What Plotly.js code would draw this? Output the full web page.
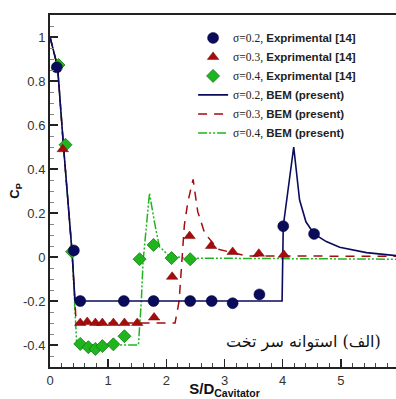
<!DOCTYPE html>
<html><head><meta charset="utf-8">
<script src="https://cdn.plot.ly/plotly-3.0.1.min.js"></script>
<style>html,body{margin:0;padding:0;overflow:hidden;background:#fff}#plot{width:399px;height:399px}</style>
</head><body><div id="plot"></div>
<script>
// Experimental points
const exp02X = [0.117, 0.41, 0.52, 1.27, 1.78, 2.41, 2.78, 3.14, 3.60, 4.01, 4.54];
const exp02Y = [0.862, 0.03, -0.20, -0.20, -0.20, -0.20, -0.20, -0.21, -0.17, 0.14, 0.105];
const exp03X = [0.22, 0.52, 0.64, 0.78, 0.90, 1.09, 1.28, 1.50, 1.79, 2.10, 2.40, 2.77, 3.14, 3.59, 4.02];
const exp03Y = [0.49, -0.30, -0.295, -0.30, -0.30, -0.30, -0.30, -0.30, -0.275, -0.09, 0.095, 0.05, 0.023, 0.015, 0.01];
const exp04X = [0.146, 0.267, 0.38, 0.52, 0.66, 0.78, 0.90, 1.09, 1.28, 1.54, 1.78, 2.09, 2.41];
const exp04Y = [0.873, 0.51, 0.024, -0.395, -0.41, -0.418, -0.405, -0.397, -0.36, -0.01, 0.055, -0.005, -0.01];
// BEM curves
const bem02X = [0, 0.13, 0.23, 0.34, 0.38, 0.43, 3.99, 4.01, 4.05, 4.09, 4.19, 4.29, 4.40, 4.54, 4.75, 4.98, 5.44, 6.0];
const bem02Y = [1, 0.865, 0.51, 0.17, 0.02, -0.2, -0.2, 0.14, 0.23, 0.30, 0.50, 0.26, 0.16, 0.105, 0.07, 0.044, 0.02, 0.005];
const bem03X = [0, 0.13, 0.23, 0.34, 0.38, 0.45, 2.15, 2.22, 2.26, 2.31, 2.37, 2.46, 2.54, 2.66, 2.89, 3.38, 6.0];
const bem03Y = [1, 0.865, 0.51, 0.17, 0.02, -0.3, -0.3, -0.2, -0.05, 0.145, 0.25, 0.353, 0.206, 0.108, 0.035, 0.005, 0.003];
const bem04X = [0, 0.13, 0.23, 0.34, 0.38, 0.46, 1.52, 1.57, 1.60, 1.65, 1.71, 1.80, 1.88, 2.03, 2.3, 6.0];
const bem04Y = [1, 0.865, 0.51, 0.17, 0.02, -0.4, -0.4, -0.2, -0.02, 0.12, 0.29, 0.153, 0.047, 0.01, -0.005, -0.01];
const names = [
  "σ=0.2, Exprimental [14]", "σ=0.3, Exprimental [14]", "σ=0.4, Exprimental [14]",
  "σ=0.2, BEM (present)", "σ=0.3, BEM (present)", "σ=0.4, BEM (present)"
];
const xTickVals = [0, 1, 2, 3, 4, 5, 6];
const yTickVals = [-0.4, -0.2, 0, 0.2, 0.4, 0.6, 0.8, 1];
const panelLabel = "(الف) استوانه سر تخت";

const NAVY = "#0b0b5c", RED = "#a50d0d", GREEN = "#1fb51f";
function fmt(n) {
  const i = n.indexOf(",");
  return "<span style='font-family:Liberation Serif;font-weight:normal'>" + n.slice(0, i + 1) + "</span> <b>" + n.slice(i + 2) + "</b>";
}
const data = [
  {x: bem04X, y: bem04Y, mode: "lines", name: fmt(names[5]), legendrank: 6,
   line: {color: GREEN, width: 1.5, dash: "9px,2px,2px,2px,2px,2px"}},
  {x: bem03X, y: bem03Y, mode: "lines", name: fmt(names[4]), legendrank: 5,
   line: {color: RED, width: 1.5, dash: "9px,7px"}},
  {x: bem02X, y: bem02Y, mode: "lines", name: fmt(names[3]), legendrank: 4,
   line: {color: NAVY, width: 1.6}},
  {x: exp04X, y: exp04Y, mode: "markers", name: fmt(names[2]), legendrank: 3,
   marker: {symbol: "diamond", size: 10, color: GREEN, line: {color: "#137a13", width: 0.8}}},
  {x: exp03X, y: exp03Y, mode: "markers", name: fmt(names[1]), legendrank: 2,
   marker: {symbol: "triangle-up", size: 10, color: RED, line: {color: "#7a0505", width: 0.5}}},
  {x: exp02X, y: exp02Y, mode: "markers", name: fmt(names[0]), legendrank: 1,
   marker: {symbol: "circle", size: 11, color: NAVY, line: {color: "#000033", width: 0.5}}}
];
const axisCommon = {
  showgrid: false, zeroline: false, showline: true, linecolor: "#222", linewidth: 2,
  ticks: "inside", ticklen: 8, tickwidth: 1.5, tickcolor: "#222",
  tickfont: {family: "Liberation Sans, Arial", size: 13, color: "#333"}
};
const layout = {
  width: 399, height: 399,
  margin: {l: 50, r: 0, t: 15, b: 32},
  paper_bgcolor: "#fff", plot_bgcolor: "#fff",
  showlegend: true,
  legend: {x: 0.41, xanchor: "left", y: 0.80, yanchor: "middle", bgcolor: "rgba(0,0,0,0)",
    font: {family: "Liberation Sans, Arial", size: 11.5, color: "#222"}, traceorder: "normal"},
  xaxis: Object.assign({}, axisCommon, {
    range: [0, 6], tickvals: xTickVals, ticktext: xTickVals.map(String), mirror: true,
    minor: {dtick: 0.2, ticks: "inside", ticklen: 4, tickcolor: "#444", tickwidth: 1},
    title: {text: "<b>S/D<sub>Cavitator</sub></b>", font: {family: "Liberation Sans, Arial", size: 15, color: "#111"}, standoff: 4}
  }),
  yaxis: Object.assign({}, axisCommon, {
    range: [-0.5, 1.1], tickvals: yTickVals, ticktext: yTickVals.map(v => String(v)),
    minor: {dtick: 0.05, ticks: "inside", ticklen: 4, tickcolor: "#888", tickwidth: 1},
    title: {text: "<b>C<sub>P</sub></b>", font: {family: "Liberation Sans, Arial", size: 13, color: "#111"}, standoff: 0}
  }),
  annotations: [
    {xref: "paper", yref: "paper", x: 0.725, y: 0.07, xanchor: "center", yanchor: "middle",
     text: "\u202B" + panelLabel + "\u202C", showarrow: false,
     font: {family: "DejaVu Serif, Noto Sans, DejaVu Sans", size: 16, color: "#111"}}
  ]
};
Plotly.newPlot("plot", data, layout, {staticPlot: true, displayModeBar: false});
</script></body></html>
